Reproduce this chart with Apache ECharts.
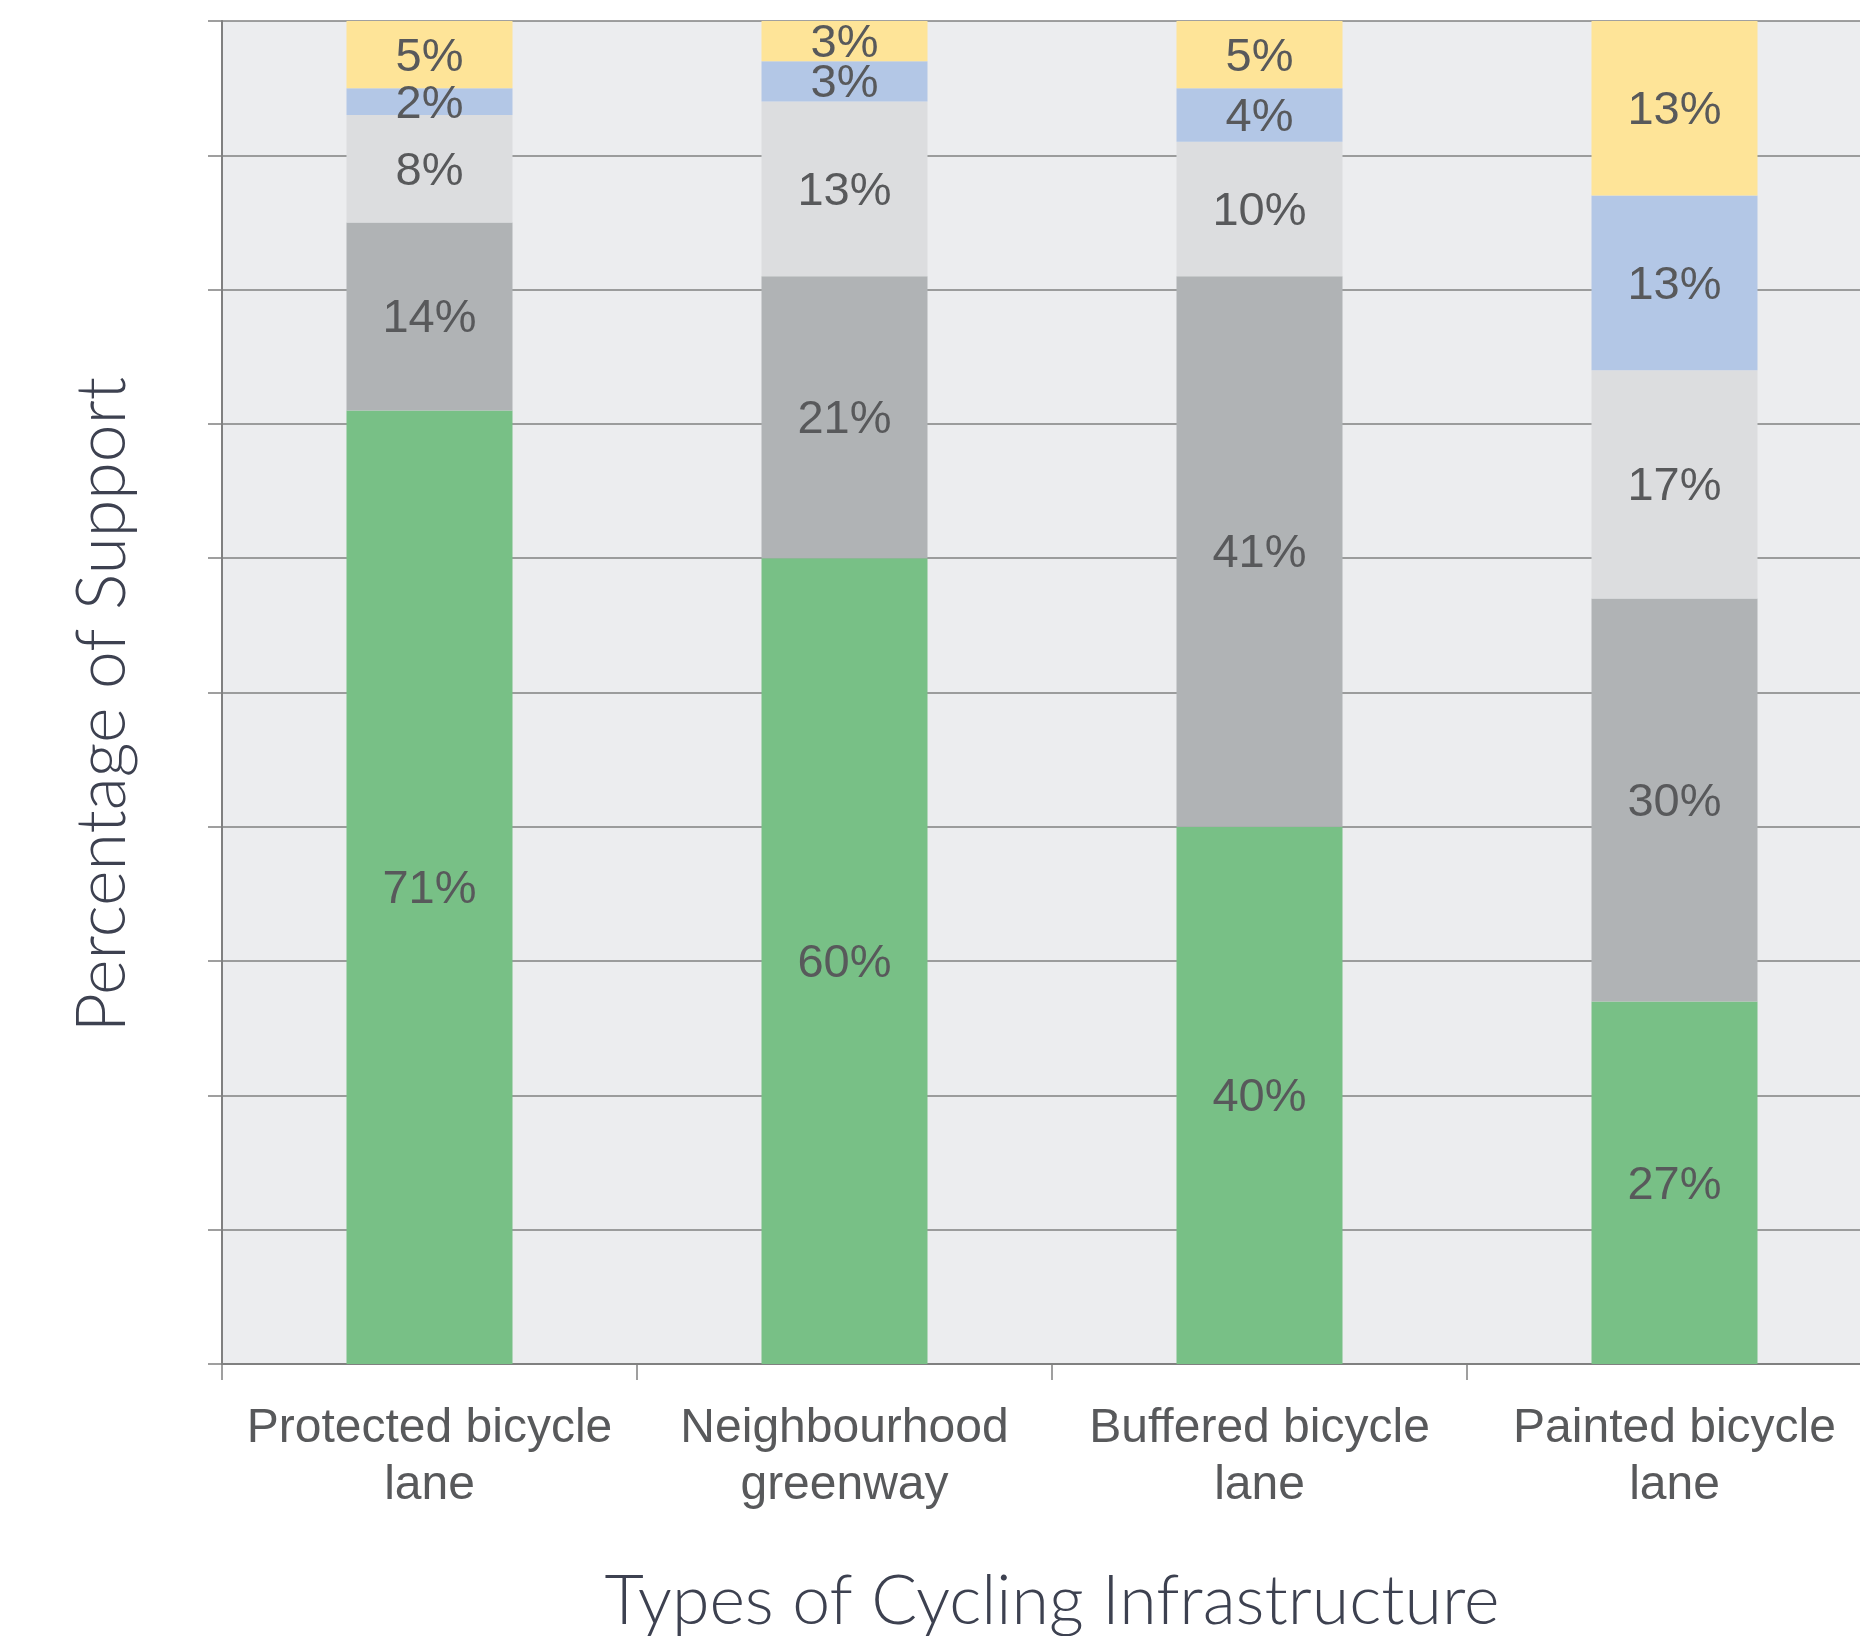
<!DOCTYPE html>
<html>
<head>
<meta charset="utf-8">
<style>
  html, body { margin: 0; padding: 0; background: #ffffff; }
  #chart { width: 1860px; height: 1636px; }
</style>
<script src="https://cdn.jsdelivr.net/npm/echarts@6/dist/echarts.min.js"></script>
</head>
<body>
<div id="chart"></div>
<script>
// Facility types along the horizontal axis
const categories = [
  'Protected bicycle\nlane',
  'Neighbourhood\ngreenway',
  'Buffered bicycle\nlane',
  'Painted bicycle\nlane'
];

// Share of respondents (%) per response level, stacked bottom to top
const stronglySupport = [71, 60, 40, 27];
const somewhatSupport = [14, 21, 41, 30];
const neutral         = [8, 13, 10, 17];
const somewhatOppose  = [2, 3, 4, 13];
const stronglyOppose  = [5, 3, 5, 13];

const yTicks = { min: 0, max: 100, interval: 10 };

const seriesDefs = [
  { name: 'Strongly support', data: stronglySupport, color: '#78C086' },
  { name: 'Somewhat support', data: somewhatSupport, color: '#B0B3B5' },
  { name: 'Neutral',          data: neutral,         color: '#DCDDDF' },
  { name: 'Somewhat oppose',  data: somewhatOppose,  color: '#B3C7E6' },
  { name: 'Strongly oppose',  data: stronglyOppose,  color: '#FEE498' }
];

const labelFont = '"Liberation Sans", Arimo, Arial, sans-serif';
const titleFont = 'Lato, "Open Sans", sans-serif';

const chart = echarts.init(document.getElementById('chart'), null, { renderer: 'canvas' });

chart.setOption({
  animation: false,
  backgroundColor: '#ffffff',
  grid: {
    left: 222,
    top: 21,
    width: 1660,
    height: 1343,
    outerBoundsMode: 'none',
    containLabel: false,
    show: true,
    backgroundColor: '#ECEDEF',
    borderWidth: 0
  },
  xAxis: {
    type: 'category',
    data: categories,
    name: 'Types of Cycling Infrastructure',
    nameLocation: 'middle',
    nameGap: 204,
    nameTextStyle: {
      fontFamily: titleFont,
      fontWeight: 300,
      fontSize: 68,
      color: '#3D4150'
    },
    axisLine: { show: true, lineStyle: { color: '#808080', width: 2 } },
    axisTick: { show: true, interval: 0, length: 16, lineStyle: { color: '#808080', width: 1.5 } },
    axisLabel: {
      interval: 0,
      margin: 36,
      fontFamily: labelFont,
      fontSize: 48,
      lineHeight: 57,
      color: '#58595B'
    }
  },
  yAxis: {
    type: 'value',
    min: yTicks.min,
    max: yTicks.max,
    interval: yTicks.interval,
    name: 'Percentage of Support',
    nameLocation: 'middle',
    nameRotate: 90,
    nameGap: 85,
    nameTextStyle: {
      fontFamily: titleFont,
      fontWeight: 300,
      fontSize: 68,
      color: '#3D4150',
      // extra room on the reading end nudges the rotated title slightly lower
      padding: [0, 24, 0, 0]
    },
    axisLine: { show: true, lineStyle: { color: '#808080', width: 2 } },
    axisTick: { show: true, length: 14, lineStyle: { color: '#808080', width: 1.5 } },
    axisLabel: { show: false },
    splitLine: { show: true, lineStyle: { color: '#808080', width: 1.5 } }
  },
  series: seriesDefs.map(s => ({
    name: s.name,
    type: 'bar',
    stack: 'support',
    barWidth: '40%',
    data: s.data,
    itemStyle: { color: s.color },
    label: {
      show: true,
      position: 'inside',
      offset: [0, 3],
      formatter: p => p.value + '%',
      fontFamily: labelFont,
      fontSize: 47,
      color: '#58595B'
    }
  }))
});
</script>
</body>
</html>
